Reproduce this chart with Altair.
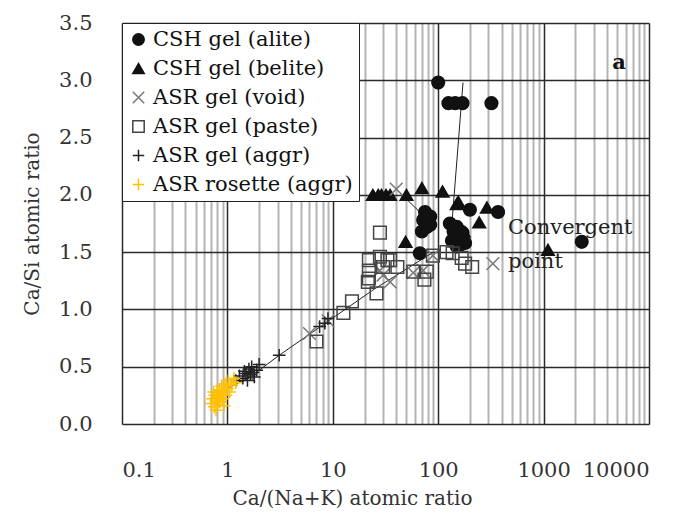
import altair as alt
import pandas as pd

# ---------------- data ----------------
series_order = ["CSH gel (alite)", "CSH gel (belite)", "ASR gel (void)",
                "ASR gel (paste)", "ASR gel (aggr)", "ASR rosette (aggr)"]

alite_x = [100, 125, 145, 170, 320, 72, 84, 70, 84, 78, 129, 150, 200, 160, 160,
           170, 180, 140, 150, 370, 67, 2300, 75, 135]
alite_y = [2.98, 2.80, 2.80, 2.80, 2.80, 1.78, 1.74, 1.68, 1.81, 1.72, 1.75, 1.72,
           1.87, 1.62, 1.56, 1.67, 1.58, 1.68, 1.55, 1.85, 1.49, 1.59, 1.85, 1.60]

belite_x = [24, 27, 29, 32, 35, 50, 70, 110, 150, 290, 245, 49, 1100, 175, 155]
belite_y = [2.00, 2.00, 2.00, 2.00, 2.00, 2.00, 2.06, 2.03, 1.92, 1.89, 1.76, 1.59,
            1.52, 1.68, 1.94]

void_x = [6.0, 9.0, 28, 35, 30, 58, 72, 89, 330, 40, 1.6]
void_y = [0.79, 0.90, 1.34, 1.24, 1.30, 1.32, 1.34, 1.47, 1.40, 2.05, 0.42]

paste_x = [7.0, 12.6, 15.2, 26, 21.5, 22, 22, 22, 28, 28, 33, 30, 41, 58, 78, 89,
           120, 137, 167, 180, 210, 35, 74]
paste_y = [0.72, 0.97, 1.07, 1.14, 1.24, 1.43, 1.34, 1.27, 1.67, 1.46, 1.43, 1.37,
           1.37, 1.33, 1.33, 1.47, 1.50, 1.49, 1.45, 1.40, 1.37, 1.43, 1.26]

aggr_x = [1.2, 1.3, 1.4, 1.45, 1.5, 1.55, 1.6, 1.65, 1.7, 1.75, 1.8, 1.9, 2.0,
          3.1, 8.4, 9.0, 7.5]
aggr_y = [0.38, 0.42, 0.40, 0.46, 0.44, 0.38, 0.48, 0.43, 0.50, 0.45, 0.41, 0.47,
          0.52, 0.60, 0.88, 0.92, 0.85]

rosette_x = [0.70, 0.72, 0.75, 0.76, 0.78, 0.80, 0.80, 0.82, 0.84, 0.85, 0.87, 0.88,
             0.90, 0.92, 0.95, 0.97, 1.00, 1.02, 1.05, 1.10, 1.15, 1.20, 0.78, 0.74, 0.93]
rosette_y = [0.18, 0.22, 0.15, 0.25, 0.20, 0.28, 0.17, 0.23, 0.30, 0.19, 0.26, 0.33,
             0.22, 0.29, 0.35, 0.25, 0.31, 0.38, 0.28, 0.34, 0.40, 0.36, 0.12, 0.28, 0.16]

# connecting lines
line_id = ["a"] * 6 + ["b"] * 2 + ["c"] * 2
line_x = [0.75, 1.7, 3.1, 8.5, 25, 90, 40, 80, 172, 135]
line_y = [0.25, 0.42, 0.60, 0.88, 1.18, 1.50, 2.05, 1.78, 2.98, 1.75]

note_text = ["Convergent", "point"]
note_x = [460, 460]
note_y = [1.71, 1.41]

panel_text = ["a"]
panel_x = [5200]
panel_y = [3.15]

x_ticks = [round(m * d, 6) for d in [0.1, 1, 10, 100, 1000] for m in range(1, 10)] + [10000]
y_ticks = [0, 0.5, 1.0, 1.5, 2.0, 2.5, 3.0, 3.5]

# ---------------- tables ----------------
rows = []
for name, xs, ys in zip(series_order,
                        [alite_x, belite_x, void_x, paste_x, aggr_x, rosette_x],
                        [alite_y, belite_y, void_y, paste_y, aggr_y, rosette_y]):
    for a, b in zip(xs, ys):
        rows.append({"x": a, "y": b, "series": name})
pts = pd.DataFrame(rows)
lines = pd.DataFrame({"id": line_id, "x": line_x, "y": line_y,
                      "o": list(range(len(line_x)))})
notes = pd.DataFrame({"t": note_text, "x": note_x, "y": note_y})
panel = pd.DataFrame({"t": panel_text, "x": panel_x, "y": panel_y})

FONT = "DejaVu Serif"
decade = "abs(log(datum.value)/LN10 - round(log(datum.value)/LN10)) < 1e-6"

xscale = alt.Scale(type="log", domain=[0.1, 10000], nice=False)
yscale = alt.Scale(domain=[0, 3.5], nice=False, zero=False)

xaxis = alt.Axis(values=x_ticks, format="~g", labelExpr=f"{decade} ? datum.label : ''",
                 grid=True,
                 gridColor={"condition": {"test": decade, "value": "#2a2a2a"}, "value": "#b4b4b4"},
                 gridWidth={"condition": {"test": decade, "value": 1.5}, "value": 2},
                 ticks=False, tickSize=0, domain=False, labelOverlap=False, labelBound=False,
                 labelPadding=35, labelFont=FONT, labelFontSize=21, labelColor="#333",
                 title="Ca/(Na+K)  atomic ratio", titleFont=FONT, titleFontSize=20,
                 titleFontWeight="normal", titleColor="#333", titlePadding=8, titleX=230)
yaxis = alt.Axis(values=y_ticks, format=".1f", grid=True, gridColor="#2a2a2a", gridWidth=1.5,
                 ticks=False, tickSize=0, domain=False, labelPadding=30,
                 labelFont=FONT, labelFontSize=21, labelColor="#333",
                 title="Ca/Si  atomic ratio", titleFont=FONT, titleFontSize=20,
                 titleFontWeight="normal", titleColor="#333", titlePadding=16)

shapes = ["circle", "triangle-up", "M-1,-1L1,1M-1,1L1,-1", "square",
          "M-1,0L1,0M0,-1L0,1", "M-1,0L1,0M0,-1L0,1"]
strokes = ["#111111", "#111111", "#777777", "#444444", "#222222", "#FFC000"]
fills = ["#111111", "#111111", "transparent", "transparent", "transparent", "transparent"]

legend = alt.Legend(orient="none", legendX=0, legendY=0, title=None,
                    labelFont=FONT, labelFontSize=21, labelColor="#111",
                    symbolSize=130, symbolStrokeWidth=1.5, rowPadding=7,
                    padding=6, strokeColor="#222", fillColor="white",
                    labelLimit=400)

lines_layer = alt.Chart(lines).mark_line(color="#222", strokeWidth=1).encode(
    x=alt.X("x:Q", scale=xscale, axis=xaxis),
    y=alt.Y("y:Q", scale=yscale, axis=yaxis),
    detail="id:N",
    order="o:Q",
)

points_layer = alt.Chart(pts).mark_point(size=160, strokeWidth=1.5, opacity=1).encode(
    x=alt.X("x:Q", scale=xscale),
    y=alt.Y("y:Q", scale=yscale),
    shape=alt.Shape("series:N", scale=alt.Scale(domain=series_order, range=shapes), legend=legend),
    stroke=alt.Stroke("series:N", scale=alt.Scale(domain=series_order, range=strokes), legend=legend),
    fill=alt.Fill("series:N", scale=alt.Scale(domain=series_order, range=fills), legend=legend),
)

notes_layer = alt.Chart(notes).mark_text(align="left", baseline="middle", font=FONT,
                                         fontSize=21, color="#222").encode(
    x=alt.X("x:Q", scale=xscale), y=alt.Y("y:Q", scale=yscale), text="t:N")

panel_layer = alt.Chart(panel).mark_text(align="center", baseline="middle", font=FONT,
                                         fontSize=21, fontWeight="bold", color="#111").encode(
    x=alt.X("x:Q", scale=xscale), y=alt.Y("y:Q", scale=yscale), text="t:N")

chart = alt.layer(lines_layer, points_layer, notes_layer, panel_layer).properties(
    width=527, height=401,
    autosize=alt.AutoSizeParams(type="none"),
    padding={"left": 114, "top": 15, "right": 27, "bottom": 88},
).configure_view(stroke="#222", strokeWidth=1.5).configure(background="white")

chart.save("out.html", embed_options={"renderer": "svg", "actions": False})
